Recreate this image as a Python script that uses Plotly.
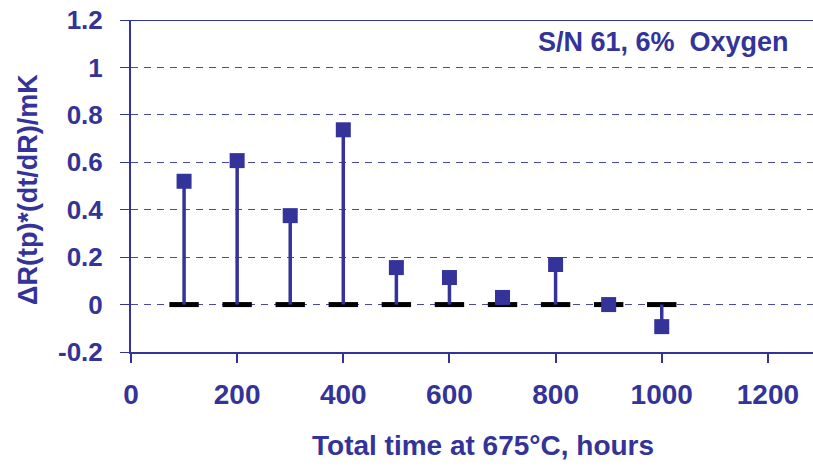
import plotly.graph_objects as go

hours = [100, 200, 300, 400, 500, 600, 700, 800, 900, 1000]
delta_mk = [0.52, 0.607, 0.375, 0.737, 0.156, 0.114, 0.03, 0.169, 0.0, -0.093]
x_ticks = [0, 200, 400, 600, 800, 1000, 1200]
y_ticks = [-0.2, 0, 0.2, 0.4, 0.6, 0.8, 1.0, 1.2]
y_tick_labels = ["-0.2", "0", "0.2", "0.4", "0.6", "0.8", "1", "1.2"]

BLUE = "#333399"
FONT = "Liberation Sans"

stem_x, stem_y = [], []
for h, v in zip(hours, delta_mk):
    stem_x += [h, h, None]
    stem_y += [0, v, None]

fig = go.Figure()
fig.add_trace(go.Scatter(
    x=hours, y=[0] * len(hours), mode="markers",
    marker=dict(symbol="line-ew-open", size=21, color="black",
                line=dict(width=5, color="black")),
    hoverinfo="skip", showlegend=False))
fig.add_trace(go.Scatter(
    x=stem_x, y=stem_y, mode="lines",
    line=dict(color=BLUE, width=3.5), hoverinfo="skip", showlegend=False))
fig.add_trace(go.Scatter(
    x=hours, y=delta_mk, mode="markers",
    marker=dict(symbol="square", size=15, color=BLUE, line=dict(width=0)),
    showlegend=False))

fig.update_layout(
    width=813, height=468,
    margin=dict(l=131, r=0, t=20, b=116, pad=0),
    paper_bgcolor="white", plot_bgcolor="white",
    font=dict(family=FONT, color=BLUE),
    xaxis=dict(
        range=[0, 1285], tickvals=x_ticks, showgrid=False, zeroline=False,
        showline=True, linecolor=BLUE, linewidth=2,
        ticks="outside", ticklen=9, tickwidth=1.5, tickcolor=BLUE,
        tickfont=dict(size=28, family=FONT, color=BLUE, weight="bold"),
        ticklabelstandoff=7,
    ),
    yaxis=dict(
        range=[-0.2, 1.2], tickvals=y_ticks, ticktext=y_tick_labels,
        showgrid=True, gridcolor="#4a4aa6", gridwidth=1.4, griddash="7px,6px",
        zeroline=False, showline=True, linecolor=BLUE, linewidth=2,
        ticks="outside", ticklen=9, tickwidth=1.3, tickcolor=BLUE,
        tickfont=dict(size=26, family=FONT, color=BLUE, weight="bold"),
        ticklabelstandoff=12,
    ),
    shapes=[dict(type="line", xref="paper", yref="y", x0=0, x1=1, y0=1.2, y1=1.2,
                 line=dict(color=BLUE, width=2))],
    annotations=[
        dict(text="S/N 61, 6%  Oxygen", xref="paper", yref="paper",
             x=(791 - 131) / 682, y=1 - (42 - 20) / 332,
             xanchor="right", yanchor="middle", showarrow=False,
             font=dict(size=27, family=FONT, color=BLUE, weight="bold")),
        dict(text="Total time at 675°C, hours", xref="paper", yref="paper",
             x=(483 - 131) / 682, y=-(445 - 352) / 332,
             xanchor="center", yanchor="middle", showarrow=False,
             font=dict(size=28, family=FONT, color=BLUE, weight="bold")),
        dict(text="ΔR(tp)*(dt/dR)/mK", xref="paper", yref="paper",
             x=-(131 - 28) / 682, y=1 - (190 - 20) / 332, textangle=-90,
             xanchor="center", yanchor="middle", showarrow=False,
             font=dict(size=27, family=FONT, color=BLUE, weight="bold")),
    ],
)

fig.write_html("out.html")
